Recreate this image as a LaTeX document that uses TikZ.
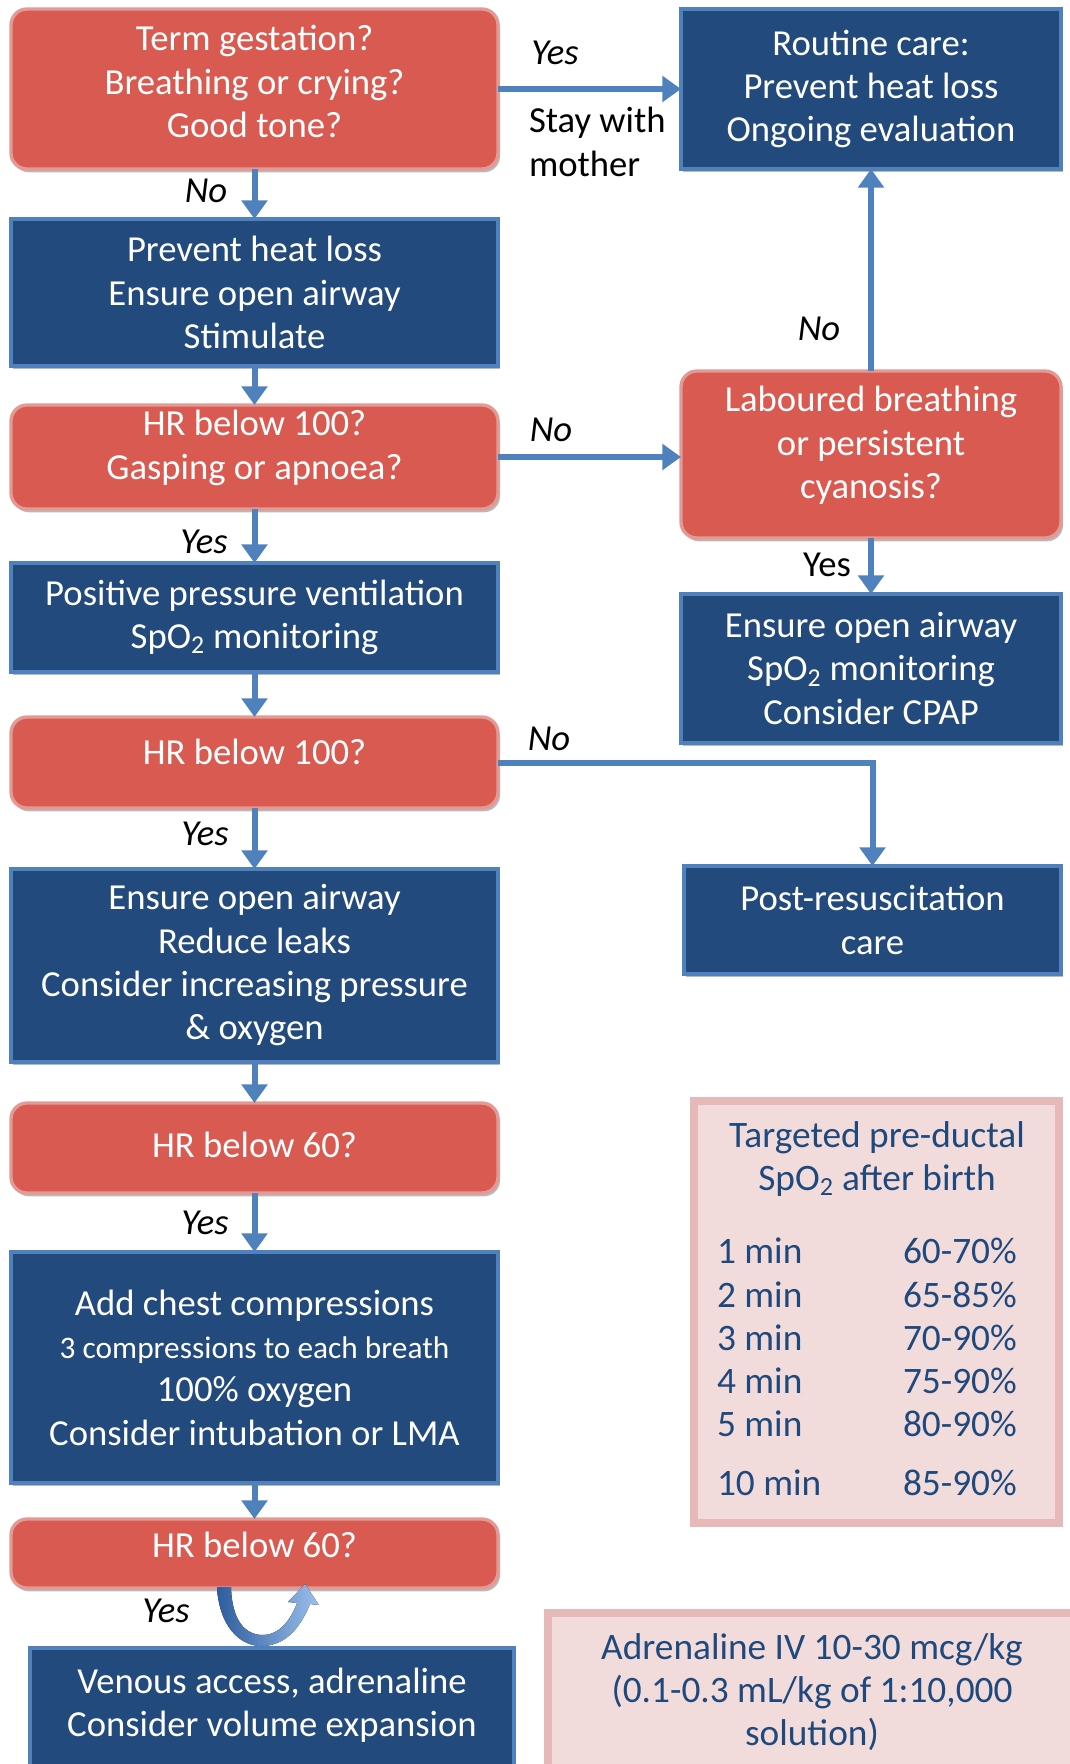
\documentclass[tikz,border=0pt]{standalone}
\usepackage{fontspec}
\setmainfont{Carlito}
\usetikzlibrary{arrows.meta,fit,shadows,calc}
\definecolor{redfill}{HTML}{D95A50}
\definecolor{redline}{HTML}{E39A94}
\definecolor{bluefill}{HTML}{234A7D}
\definecolor{blueline}{HTML}{4F81BD}
\definecolor{pinkfill}{HTML}{F2DCDB}
\definecolor{pinkline}{HTML}{E6B8B7}
\definecolor{darkblue}{HTML}{1F497D}
\definecolor{arrowblue}{HTML}{4F81BD}
\definecolor{uarrowdark}{HTML}{2E5C9E}
\definecolor{uarrowlight}{HTML}{9CC0EC}
\begin{document}
\begin{tikzpicture}[x=0.75pt,y=-0.75pt,
  every node/.style={inner sep=0pt, outer sep=0pt},
  boxtext/.style={font=\fontsize{27.5}{32.5}\selectfont, text=white, align=center},
  boxshadow/.style={drop shadow={shadow xshift=1.5pt, shadow yshift=-2.5pt, fill=black!50, opacity=0.55}},
  redbox/.style={fill=redfill, draw=redline, line width=2.5pt, rounded corners=12pt, boxshadow},
  bluebox/.style={fill=bluefill, draw=blueline, line width=3pt, boxshadow},
  pinkbox/.style={fill=pinkfill, draw=pinkline, line width=6pt},
  pinktext/.style={text=darkblue, font=\fontsize{28}{32.5}\selectfont, align=center},
  flow/.style={draw=arrowblue, line width=4.5pt, -{Triangle[width=19pt,length=14pt]}},
  lab/.style={font=\fontsize{27.5}{32.5}\selectfont\itshape, text=black},
  uplab/.style={font=\fontsize{27.5}{33.5}\selectfont, text=black},
]
\useasboundingbox (0,0) rectangle (1070,1764);

% left column boxes
\node[redbox, fit={(11,9) (498,169)}] (b1) {};
\node[bluebox, fit={(11,219) (498,366)}] (b2) {};
\node[redbox, fit={(11,405) (498,509)}] (b3) {};
\node[bluebox, fit={(11,563) (498,672)}] (b4) {};
\node[redbox, fit={(11,717) (498,808)}] (b5) {};
\node[bluebox, fit={(11,869) (498,1062)}] (b6) {};
\node[redbox, fit={(11,1103) (498,1193)}] (b7) {};
\node[bluebox, fit={(11,1252) (498,1483)}] (b8) {};
\node[redbox, fit={(11,1519) (498,1588)}] (b9) {};
\node[bluebox, fit={(30,1648) (514,1790)}] (b10) {};

% right column boxes
\node[bluebox, fit={(681,9) (1061,169)}] (r1) {};
\node[redbox, fit={(681,371) (1061,538)}] (r2) {};
\node[bluebox, fit={(681,594) (1061,743)}] (r3) {};
\node[bluebox, fit={(684,866) (1061,974)}] (r4) {};

% info boxes
\node[pinkbox, fit={(694,1101) (1059,1523)}] (tab) {};
\node[pinkbox, fit={(548,1613) (1076,1775)}] (adr) {};

% box texts
\node[boxtext] (b1t) at ([yshift=5.6pt]b1.center) {Term gestation?\\Breathing or crying?\\Good tone?};
\node[boxtext] (b2t) at (b2.center) {Prevent heat loss\\Ensure open airway\\Stimulate};
\node[boxtext] (b3t) at ([yshift=6.9pt]b3.center) {HR below 100?\\Gasping or apnoea?};
\node[boxtext] (b4t) at (b4.center) {Positive pressure ventilation\\SpO\textsubscript{2} monitoring};
\node[boxtext] (b5t) at ([yshift=8.3pt]b5.center) {HR below 100?};
\node[boxtext] (b6t) at (b6.center) {Ensure open airway\\Reduce leaks\\Consider increasing pressure\\\& oxygen};
\node[boxtext] (b7t) at ([yshift=2pt]b7.center) {HR below 60?};
\node[boxtext] (b8t) at (b8.center) {Add chest compressions\\{\fontsize{23.5}{27}\selectfont 3 compressions to each breath}\\100\% oxygen\\Consider intubation or LMA};
\node[boxtext] (b9t) at ([yshift=6.7pt]b9.center) {HR below 60?};
\node[boxtext] (b10t) at (272,1705) {Venous access, adrenaline\\Consider volume expansion};
\node[boxtext] (r1t) at (r1.center) {Routine care:\\Prevent heat loss\\Ongoing evaluation};
\node[boxtext] (r2t) at ([yshift=6.75pt]r2.center) {Laboured breathing\\or persistent\\cyanosis?};
\node[boxtext] (r3t) at (r3.center) {Ensure open airway\\SpO\textsubscript{2} monitoring\\Consider CPAP};
\node[boxtext] (r4t) at (r4.center) {Post-resuscitation\\care};
\node[pinktext] (adrt) at ([yshift=1.5pt]adr.center) {Adrenaline IV 10-30 mcg/kg\\(0.1-0.3 mL/kg of 1:10,000\\solution)};

% table contents
\node[pinktext, anchor=base] (th1) at (877,1147) {Targeted pre-ductal};
\node[pinktext, anchor=base] (th2) at (877,1190) {SpO\textsubscript{2} after birth};
\node[pinktext, anchor=base west] (m1) at (717,1263) {1 min};
\node[pinktext, anchor=base west] (m2) at (717,1307) {2 min};
\node[pinktext, anchor=base west] (m3) at (717,1350) {3 min};
\node[pinktext, anchor=base west] (m4) at (717,1393) {4 min};
\node[pinktext, anchor=base west] (m5) at (717,1436) {5 min};
\node[pinktext, anchor=base west] (m10) at (717,1495) {10 min};
\node[pinktext, anchor=base west] (p1) at (903,1263) {60-70\%};
\node[pinktext, anchor=base west] (p2) at (903,1307) {65-85\%};
\node[pinktext, anchor=base west] (p3) at (903,1350) {70-90\%};
\node[pinktext, anchor=base west] (p4) at (903,1393) {75-90\%};
\node[pinktext, anchor=base west] (p5) at (903,1436) {80-90\%};
\node[pinktext, anchor=base west] (p10) at (903,1495) {85-90\%};

% connectors
\draw[flow] (b1.east) -- (r1.west);
\draw[flow] (b1.south) -- (b2.north);
\draw[flow] (b2.south) -- (b3.north);
\draw[flow] (b3.east) -- (b3.east -| r2.west);
\draw[flow] (r2.north) -- (r1.south);
\draw[flow] (r2.south) -- (r3.north);
\draw[flow] (b3.south) -- (b4.north);
\draw[flow] (b4.south) -- (b5.north);
\draw[flow] (b5.east) -| (r4.north);
\draw[flow] (b5.south) -- (b6.north);
\draw[flow] (b6.south) -- (b7.north);
\draw[flow] (b7.south) -- (b8.north);
\draw[flow] (b8.south) -- (b9.north);

% U-turn arrow below last decision
\fill[left color=uarrowdark, right color=uarrowlight]
  (217,1587) .. controls (219,1626) and (240,1647) .. (263,1646)
  .. controls (287,1645) and (301,1626) .. (310,1604)
  -- (319,1605) -- (305,1584) -- (288,1602) -- (297,1603)
  .. controls (290,1622) and (278,1635) .. (263,1635)
  .. controls (246,1635) and (232,1622) .. (231,1587) -- cycle;

% labels
\node[lab] (l1) at (555,53) {Yes};
\node[uplab, align=left, anchor=west] (l1b) at (529,142) {Stay with\\mother};
\node[lab] (l2) at (206,191) {No};
\node[lab] (l3) at (551,430) {No};
\node[lab] (l4) at (819,329) {No};
\node[uplab] (l5) at (827,565) {Yes};
\node[lab] (l6) at (204,542) {Yes};
\node[lab] (l7) at (549,739) {No};
\node[lab] (l8) at (205,834) {Yes};
\node[lab] (l9) at (205,1223) {Yes};
\node[lab] (l10) at (166,1611) {Yes};
\end{tikzpicture}
\end{document}
